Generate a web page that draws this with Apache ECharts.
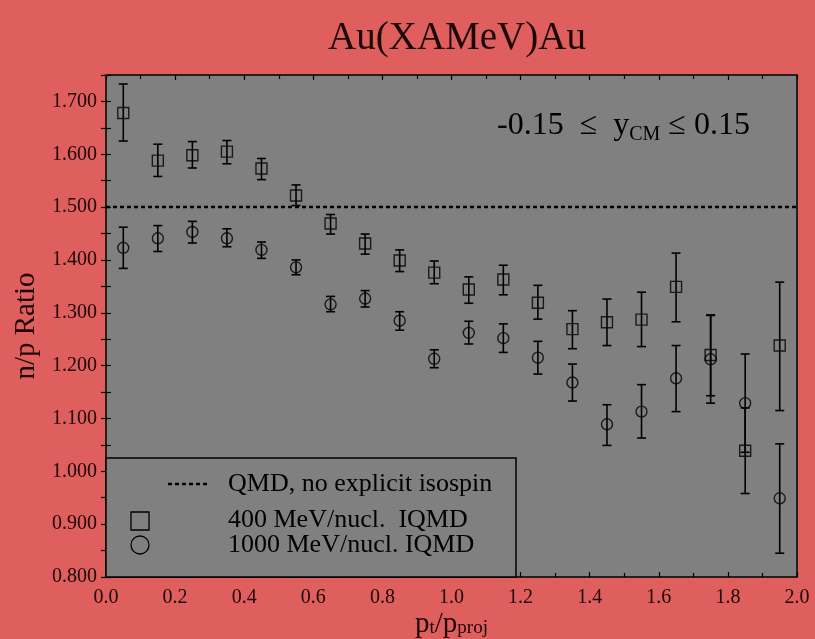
<!DOCTYPE html>
<html><head><meta charset="utf-8">
<script src="https://cdn.jsdelivr.net/npm/echarts@6/dist/echarts.min.js"></script>
<style>html,body{margin:0;padding:0;background:#DF5E5E;}#c{width:815px;height:639px;}</style>
</head><body><div id="c"></div>
<script>
const xCenters = [0.05,0.15,0.25,0.35,0.45,0.55,0.65,0.75,0.85,0.95,1.05,1.15,1.25,1.35,1.45,1.55,1.65,1.75,1.85,1.95];
const ratio400 = [1.678,1.588,1.598,1.605,1.573,1.522,1.469,1.431,1.399,1.376,1.344,1.363,1.319,1.269,1.282,1.287,1.349,1.220,1.039,1.238];
const low400   = [1.625,1.558,1.574,1.582,1.552,1.503,1.449,1.411,1.378,1.355,1.318,1.334,1.288,1.232,1.238,1.236,1.283,1.143,0.958,1.115];
const high400  = [1.733,1.619,1.624,1.626,1.592,1.542,1.486,1.449,1.419,1.398,1.368,1.390,1.352,1.304,1.326,1.339,1.413,1.296,1.120,1.358];
const ratio1000 = [1.423,1.441,1.453,1.441,1.419,1.386,1.316,1.327,1.285,1.213,1.262,1.252,1.215,1.168,1.089,1.113,1.176,1.212,1.129,0.949];
const low1000   = [1.384,1.416,1.432,1.425,1.403,1.372,1.302,1.311,1.267,1.196,1.241,1.225,1.184,1.133,1.049,1.063,1.113,1.129,1.036,0.845];
const high1000  = [1.462,1.465,1.473,1.459,1.434,1.400,1.331,1.342,1.302,1.230,1.284,1.279,1.246,1.203,1.126,1.164,1.238,1.295,1.222,1.052];
const qmdX = [0, 2];
const qmdY = [1.5, 1.5];
const legendLabels = ['QMD, no explicit isospin', '400 MeV/nucl.  IQMD', '1000 MeV/nucl. IQMD'];
const titleText = 'Au(XAMeV)Au';

const FONT = 'Liberation Serif';
const TXT = '#1c0505';

function errRender(params, api) {
  const x = api.value(0), lo = api.value(1), hi = api.value(2);
  const a = api.coord([x, hi]), b = api.coord([x, lo]);
  const hw = 4.5;
  const st = {stroke: '#000', lineWidth: 1.6, fill: null};
  return {type: 'group', children: [
    {type: 'line', shape: {x1: a[0], y1: a[1], x2: b[0], y2: b[1]}, style: st},
    {type: 'line', shape: {x1: a[0]-hw, y1: a[1], x2: a[0]+hw, y2: a[1]}, style: st},
    {type: 'line', shape: {x1: b[0]-hw, y1: b[1], x2: b[0]+hw, y2: b[1]}, style: st}
  ]};
}

const tickStyle = {inside: true, length: 5, lineStyle: {color: '#000', width: 1.2}};
const minorStyle = {show: true, splitNumber: 2, length: 4, lineStyle: {color: '#000', width: 1.2}};

const chart = echarts.init(document.getElementById('c'), null, {renderer: 'canvas'});
chart.setOption({
  backgroundColor: '#DF5E5E',
  animation: false,
  title: {text: titleText, left: 452, top: 14, textAlign: 'center',
    textStyle: {fontFamily: FONT, fontSize: 39, fontWeight: 'normal', color: TXT}},
  grid: {left: 106, right: 18, top: 75, bottom: 62, outerBoundsMode: 'none', containLabel: false,
    show: true, backgroundColor: '#808080', borderColor: '#000', borderWidth: 1.5},
  xAxis: [
    {type: 'value', min: 0, max: 2, interval: 0.2, position: 'bottom',
     axisLine: {show: false}, splitLine: {show: false},
     axisTick: tickStyle, minorTick: minorStyle,
     axisLabel: {margin: 11, fontFamily: FONT, fontSize: 20, color: TXT, formatter: v => v.toFixed(1)},
     name: '{n|p}{s|t}{n|/p}{s|proj}', nameLocation: 'middle', nameGap: 33, nameMoveOverlap: false,
     nameTextStyle: {rich: {
       n: {fontFamily: FONT, fontSize: 29, color: TXT, lineHeight: 28, verticalAlign: 'middle'},
       s: {fontFamily: FONT, fontSize: 19, color: TXT, lineHeight: 18, verticalAlign: 'bottom'}}}},
    {type: 'value', min: 0, max: 2, interval: 0.2, position: 'top',
     axisLine: {show: false}, splitLine: {show: false},
     axisTick: tickStyle, minorTick: minorStyle, axisLabel: {show: false}}
  ],
  yAxis: [
    {type: 'value', min: 0.8, max: 1.75, interval: 0.05, position: 'left',
     axisLine: {show: false}, splitLine: {show: false}, axisTick: tickStyle,
     axisLabel: {margin: 9, fontFamily: FONT, fontSize: 20, color: TXT,
       formatter: v => (Math.round(v * 100) % 10 === 0 ? v.toFixed(3) : '')},
     name: 'n/p Ratio', nameLocation: 'middle', nameGap: 65, nameRotate: 90, nameMoveOverlap: false,
     nameTextStyle: {fontFamily: FONT, fontSize: 29, color: TXT}},
    {type: 'value', min: 0.8, max: 1.75, interval: 0.05, position: 'right',
     axisLine: {show: false}, splitLine: {show: false}, axisTick: tickStyle, axisLabel: {show: false}}
  ],
  series: [
    {type: 'line', name: legendLabels[0], data: qmdX.map((x, i) => [x, qmdY[i]]), symbol: 'none', silent: true,
     lineStyle: {color: '#000', width: 2.5, type: [4, 3]}, z: 2},
    {type: 'custom', name: 'err400', renderItem: errRender,
     data: xCenters.map((x, i) => [x, low400[i], high400[i]]), encode: {x: 0, y: [1, 2]}, z: 3},
    {type: 'custom', name: 'err1000', renderItem: errRender,
     data: xCenters.map((x, i) => [x, low1000[i], high1000[i]]), encode: {x: 0, y: [1, 2]}, z: 3},
    {type: 'scatter', name: legendLabels[1], symbol: 'rect', symbolSize: 11,
     data: xCenters.map((x, i) => [x, ratio400[i]]),
     itemStyle: {color: 'rgba(0,0,0,0)', borderColor: '#000', borderWidth: 1.4}, z: 4},
    {type: 'scatter', name: legendLabels[2], symbol: 'circle', symbolSize: 11,
     data: xCenters.map((x, i) => [x, ratio1000[i]]),
     itemStyle: {color: 'rgba(0,0,0,0)', borderColor: '#000', borderWidth: 1.4}, z: 4}
  ],
  graphic: [
    {type: 'text', left: 497, top: 110, z: 10,
     style: {text: '{a|-0.15\u2002≤\u2002y}{s|CM}{a| ≤ 0.15}',
       rich: {a: {fontFamily: FONT, fontSize: 32, fill: '#000', lineHeight: 38, verticalAlign: 'middle'},
              s: {fontFamily: FONT, fontSize: 20, fill: '#000', lineHeight: 20, verticalAlign: 'bottom'}}}},
    {type: 'rect', z: 10, shape: {x: 106, y: 458, width: 410, height: 119},
     style: {fill: '#808080', stroke: '#000', lineWidth: 1.5}},
    {type: 'line', z: 11, shape: {x1: 168, y1: 484, x2: 210, y2: 484},
     style: {stroke: '#000', lineWidth: 2.5, lineDash: [4, 3]}},
    {type: 'rect', z: 11, shape: {x: 131, y: 512, width: 18, height: 18},
     style: {fill: null, stroke: '#000', lineWidth: 1.3}},
    {type: 'circle', z: 11, shape: {cx: 140, cy: 545, r: 9},
     style: {fill: null, stroke: '#000', lineWidth: 1.3}},
    {type: 'text', z: 11, x: 228, y: 484, style: {text: legendLabels[0], fontFamily: FONT, fontSize: 26, fill: '#000', verticalAlign: 'middle'}},
    {type: 'text', z: 11, x: 228, y: 520, style: {text: legendLabels[1], fontFamily: FONT, fontSize: 26, fill: '#000', verticalAlign: 'middle'}},
    {type: 'text', z: 11, x: 228, y: 545, style: {text: legendLabels[2], fontFamily: FONT, fontSize: 26, fill: '#000', verticalAlign: 'middle'}}
  ]
});
</script></body></html>
